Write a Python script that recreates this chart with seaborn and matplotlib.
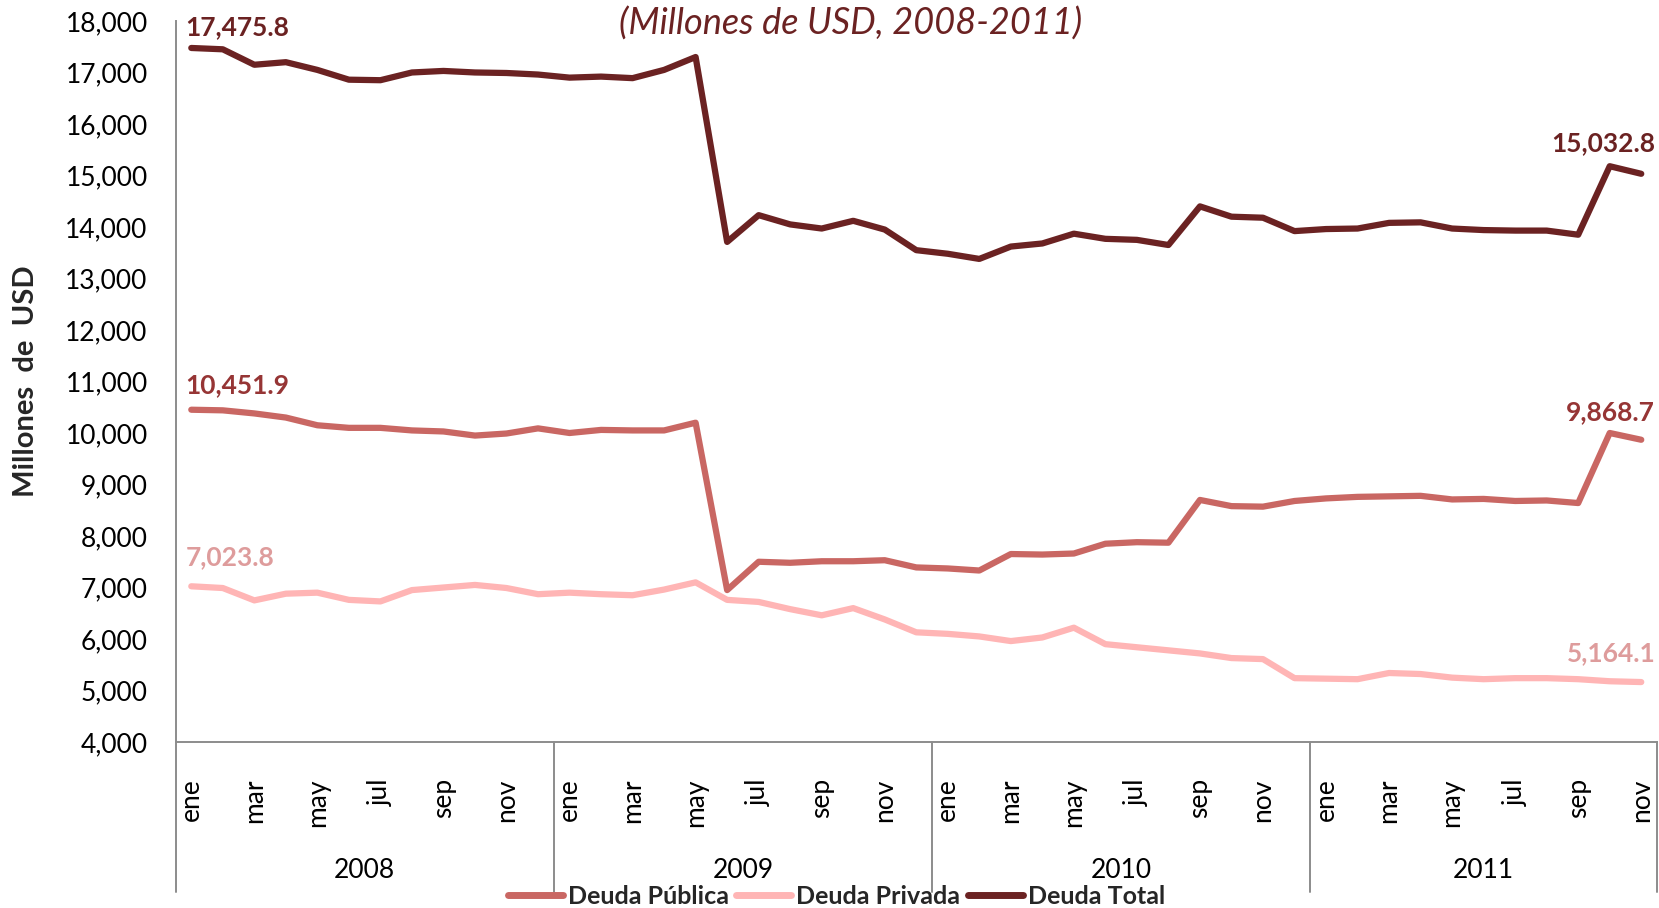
import numpy as np
import pandas as pd
import matplotlib
matplotlib.use("Agg")
import matplotlib.pyplot as plt
import matplotlib.transforms as mtransforms
from matplotlib.ticker import FuncFormatter
import seaborn as sns

# months ene-2008 .. nov-2011 (47 points)
meses = ["ene", "feb", "mar", "abr", "may", "jun", "jul", "ago", "sep", "oct", "nov", "dic"]
anios = ["2008", "2009", "2010", "2011"]

deuda_publica = [
    10451.9, 10440, 10380, 10300, 10150, 10100, 10100, 10050, 10030, 9950, 9990, 10090,
    10000, 10060, 10050, 10050, 10200, 6950, 7500, 7480, 7510, 7510, 7530, 7390,
    7370, 7330, 7650, 7640, 7660, 7850, 7880, 7870, 8700, 8580, 8570, 8680,
    8730, 8760, 8770, 8780, 8710, 8720, 8680, 8690, 8640, 10000, 9868.7,
]
deuda_privada = [
    7023.8, 6990, 6750, 6880, 6900, 6760, 6730, 6950, 7000, 7050, 6990, 6870,
    6900, 6870, 6850, 6960, 7100, 6760, 6720, 6580, 6460, 6600, 6380, 6130,
    6100, 6050, 5960, 6030, 6220, 5900, 5840, 5780, 5720, 5630, 5610, 5240,
    5230, 5220, 5340, 5320, 5250, 5220, 5240, 5240, 5220, 5180, 5164.1,
]
deuda_total = [
    17475.8, 17450, 17150, 17200, 17050, 16860, 16850, 17000, 17030, 17000, 16990, 16960,
    16900, 16920, 16890, 17050, 17300, 13710, 14230, 14050, 13970, 14120, 13950, 13550,
    13480, 13380, 13620, 13680, 13870, 13770, 13750, 13650, 14400, 14200, 14180, 13920,
    13960, 13970, 14080, 14090, 13970, 13940, 13930, 13930, 13850, 15180, 15032.8,
]

series = {"Deuda Pública": deuda_publica, "Deuda Privada": deuda_privada, "Deuda Total": deuda_total}
colores = {"Deuda Pública": "#C96763", "Deuda Privada": "#FFB5B5", "Deuda Total": "#6B2222"}
color_etiqueta = {"Deuda Pública": "#963535", "Deuda Privada": "#DE9C9C", "Deuda Total": "#6B2222"}

n = len(deuda_total)
etiquetas_mes = [meses[i % 12] for i in range(n)]

df = pd.concat([
    pd.DataFrame({"idx": np.arange(n), "valor": v, "serie": k}) for k, v in series.items()
])

sns.set_style("white")
plt.rcParams["font.family"] = ["Lato", "DejaVu Sans"]

fig = plt.figure(figsize=(16.59, 9.08), dpi=100)
ax = fig.add_axes([0.1058, 0.1828, 0.893, 0.7941])

sns.lineplot(data=df, x="idx", y="valor", hue="serie", hue_order=list(series),
             palette=colores, linewidth=4.5, ax=ax, legend=True,
             solid_capstyle="round", solid_joinstyle="round")

ax.set_xlim(-0.5, n - 0.5)
ax.set_ylim(4000, 18000)
ax.set_yticks(np.arange(4000, 18001, 1000))
ax.yaxis.set_major_formatter(FuncFormatter(lambda v, p: f"{v:,.0f}"))
ax.tick_params(axis="y", length=0, pad=20, labelsize=19, labelcolor="black")

ax.set_xticks(np.arange(0, n, 2))
ax.set_xticklabels([etiquetas_mes[i] for i in range(0, n, 2)], rotation=90, va="top")
ax.tick_params(axis="x", length=0, pad=26, labelsize=19, labelcolor="black")
ax.set_xlabel("")
ax.set_ylabel("Millones  de  USD", fontsize=21, fontweight="bold", labelpad=19)

for side in ["top", "right"]:
    ax.spines[side].set_visible(False)
for side in ["left", "bottom"]:
    ax.spines[side].set_color("#8C8C8C")
    ax.spines[side].set_linewidth(1.4)

# year groups under the month labels
trans = mtransforms.blended_transform_factory(ax.transData, ax.transAxes)
for i, anio in enumerate(anios):
    ini = i * 12 - 0.5
    fin = min(ini + 12, n - 0.5)
    ax.text((ini + fin) / 2, -0.1775, anio, transform=trans, ha="center", va="center",
            fontsize=19, color="black")
for sep in [-0.5, 11.5, 23.5, 35.5, n - 0.5]:
    ax.plot([sep, sep], [0, -0.208], transform=trans, color="#8C8C8C", lw=1.4,
            clip_on=False)

# data labels at first and last points
offsets = {"Deuda Total": (-21, -31), "Deuda Pública": (-25, -28), "Deuda Privada": (-29, -29)}
for nombre, vals in series.items():
    off_ini, off_fin = offsets[nombre]
    ax.annotate(f"{vals[0]:,.1f}", (0, vals[0]), xytext=(-6, -off_ini), textcoords="offset pixels",
                ha="left", va="center", fontsize=19, fontweight="bold",
                color=color_etiqueta[nombre])
    ax.annotate(f"{vals[-1]:,.1f}", (n - 1, vals[-1]), xytext=(14, -off_fin), textcoords="offset pixels",
                ha="right", va="center", fontsize=19, fontweight="bold",
                color=color_etiqueta[nombre])

fig.text(0.5125, 0.974, "(Millones de USD, 2008-2011)", ha="center", va="center",
         fontsize=26, fontstyle="italic", color="#6B2222")

handles, labels = ax.get_legend_handles_labels()
ax.get_legend().remove()
leg = fig.legend(handles, labels, loc="center", bbox_to_anchor=(0.504, 0.013), ncol=3,
                 frameon=False, handlelength=2.2, handletextpad=0.2, columnspacing=0.3,
                 prop={"weight": "bold", "size": 18})
for h in leg.legend_handles:
    h.set_linewidth(5)
    h.set_solid_capstyle("round")

fig.savefig("out.png", dpi=100, facecolor="white")
